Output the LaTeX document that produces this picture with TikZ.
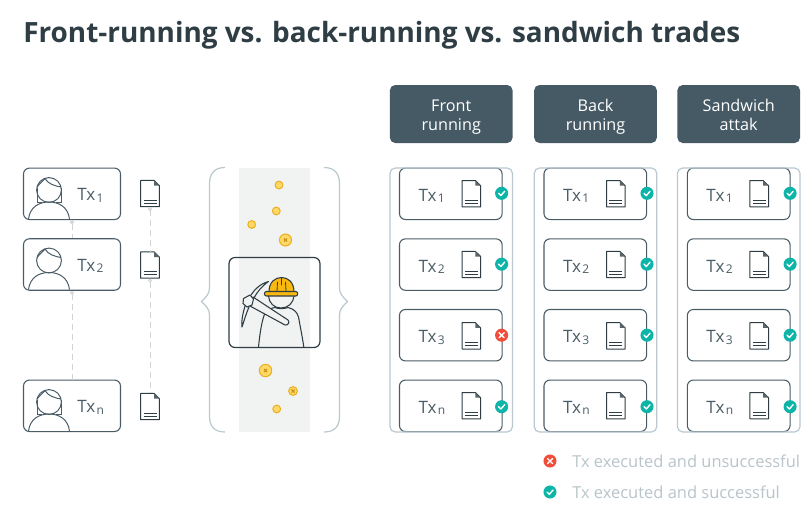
\documentclass[tikz,border=0pt]{standalone}
\usepackage{fontspec}
\setmainfont{Open Sans}
\usetikzlibrary{arrows.meta}
\definecolor{slate}{HTML}{4A5D67}
\definecolor{ink}{HTML}{2F3D44}
\definecolor{headfill}{HTML}{465A65}
\definecolor{frame}{HTML}{B9C9CF}
\definecolor{link}{HTML}{CDD3D6}
\definecolor{band}{HTML}{F1F2F2}
\definecolor{okgreen}{HTML}{0DB5A8}
\definecolor{badred}{HTML}{F04E3A}
\definecolor{note}{HTML}{B9C5CB}
\definecolor{coin}{HTML}{FFD966}
\definecolor{coinedge}{HTML}{EBAE1E}
\definecolor{hat}{HTML}{F9B90F}
\tikzset{
  txbox/.style={draw=slate,line width=.8pt,rounded corners=4.5pt,minimum width=72.75pt,minimum height=38.6pt,inner sep=0pt},
  slot/.style={draw=slate,line width=.8pt,rounded corners=4.5pt,minimum width=77pt,minimum height=38.6pt,inner sep=0pt},
  column/.style={draw=frame,line width=.9pt,rounded corners=4pt,minimum width=91.9pt,minimum height=198pt,inner sep=0pt},
  header/.style={fill=headfill,rounded corners=4pt,minimum width=92pt,minimum height=43.5pt,inner sep=0pt},
  headtext/.style={inner sep=0pt,text=white,align=center,text depth=0pt,font=\fontsize{12.15}{14.5}\selectfont},
  sheet/.style={minimum width=14pt,minimum height=19.8pt,inner sep=0pt},
  sheetline/.style={draw=ink,line width=.75pt,line join=round},
  dotted link/.style={draw=link,line width=.75pt,dash pattern=on 4.5pt off 3pt},
  txt/.style={anchor=base west,inner sep=0pt,text=slate,font=\fontsize{12.8}{15}\selectfont},
  txsub/.style={anchor=base west,inner sep=0pt,text=slate,font=\fontsize{9}{10}\selectfont},
  person/.style={draw=slate,line width=.75pt},
  brace/.style={draw=frame,line width=.9pt},
  coinfill/.style={fill=coin,draw=coinedge,line width=.75pt},
  minerline/.style={draw=ink,line width=.8pt,line cap=round,line join=round},
  glyph/.style={line width=1.05pt,draw=white,line cap=round,line join=round},
  legend/.style={anchor=base west,inner sep=0pt,text=note,font=\fontsize{12.35}{14}\selectfont},
}
% A sheet of paper with a folded corner, as a named node
\newcommand{\sheeticon}[3]{%
  \node[sheet] (#1) at (#2,#3) {};
  \begin{scope}[shift={(#2,#3)}]
    \draw[sheetline] (-9.3,-13.2) -- (4,-13.2) -- (9.3,-8) -- (9.3,13.2) -- (-9.3,13.2) -- cycle;
    \fill[ink!80] (4,-13.2) -- (9.3,-8) -- (4,-8) -- cycle;
    \draw[sheetline,line width=.6pt] (-6.5,6.6) -- (6.5,6.6) (-6.5,9.6) -- (6.5,9.6);
  \end{scope}}
% Tx label with a small index
\newcommand{\txlabel}[3]{%
  \node[txt] at (#1,#2) {Tx};
  \node[txsub] at (#1+19.3,#2+1.5) {#3};}
\newcommand{\okmark}[3]{%
  \node[circle,fill=okgreen,minimum size=9.8pt,inner sep=0pt] (#1) at (#2,#3) {};
  \draw[glyph] (#2-3,#3) -- (#2-.7,#3+2.3) -- (#2+3,#3-2);}
\newcommand{\badmark}[3]{%
  \node[circle,fill=badred,minimum size=9.8pt,inner sep=0pt] (#1) at (#2,#3) {};
  \draw[glyph] (#2-2.5,#3-2.5) -- (#2+2.5,#3+2.5) (#2-2.5,#3+2.5) -- (#2+2.5,#3-2.5);}
\newcommand{\plaincoin}[3]{\draw[coinfill] (#1,#2) circle (#3);}
\newcommand{\crosscoin}[3]{%
  \draw[coinfill] (#1,#2) circle (#3);
  \draw[draw=coinedge!85!black,line width=.8pt] (#1-1.6,#2-1.6) -- (#1+1.6,#2+1.6) (#1-1.6,#2+1.6) -- (#1+1.6,#2-1.6);}
% Head, shoulders and fringe; the optional long hair falls beside the neck
\newcommand{\shortperson}[1]{%
  \begin{scope}[shift={(49,#1)}]
    \draw[person] (0,0) circle (12.4);
    \draw[person] (-20.5,29) .. controls (-19,17) and (-10,12) .. (0,12) .. controls (10,12) and (19,17) .. (20.5,29);
    \draw[person] (-12,-3) .. controls (-8,-8) and (-5,-10) .. (-4,-11.5) .. controls (-1,-6) and (6,-4) .. (12,-3);
  \end{scope}}
\newcommand{\longperson}[1]{%
  \shortperson{#1}
  \begin{scope}[shift={(49,#1)}]
    \draw[person] (-12,-2) -- (-12,12.5) -- (-7,12.5) (12,-2) -- (12,12.5) -- (7,12.5);
  \end{scope}}

\begin{document}
\begin{tikzpicture}[x=.75pt,y=-.75pt]
\useasboundingbox[fill=white] (0,0) rectangle (812,521);

\node[anchor=base west,inner sep=0pt,text=ink,font=\fontsize{20.92}{24}\selectfont\bfseries] (title) at (23,42) {Front-running vs. back-running vs. sandwich trades};

% Senders and their transactions
\node[txbox] (u1) at (72,193.8) {};
\node[txbox] (u2) at (72,264.5) {};
\node[txbox] (un) at (72,405.8) {};
\longperson{190}
\shortperson{260.5}
\longperson{402}
\txlabel{77}{200.7}{1}
\txlabel{77}{271}{2}
\txlabel{77}{412.5}{n}
\sheeticon{d1}{150}{193.5}
\sheeticon{d2}{150}{265}
\sheeticon{dn}{150}{406.5}
\draw[dotted link,{Circle[length=3pt,fill=white]}-] (u1.south) -- (u2.north);
\draw[dotted link,{Circle[length=3pt,fill=white]}-] (u2.south) -- (un.north);
\draw[dotted link,{Circle[length=3pt,fill=white]}-] (d1.south) -- (d2.north);
\draw[dotted link,{Circle[length=3pt,fill=white]}-] (d2.south) -- (dn.north);

% Mempool band between two curly braces
\fill[band] (239,167.5) rectangle (310,432);
\draw[brace] (225,167.5) .. controls (214,167.5) and (209.5,174) .. (209.5,184) -- (209.5,288)
  .. controls (209.5,294) and (206,297) .. (201.5,301.5) .. controls (206,306) and (209.5,309) .. (209.5,315)
  -- (209.5,416) .. controls (209.5,426) and (214,432) .. (225,432);
\draw[brace] (324,167.5) .. controls (335,167.5) and (339.5,174) .. (339.5,184) -- (339.5,288)
  .. controls (339.5,294) and (343,297) .. (347.5,301.5) .. controls (343,306) and (339.5,309) .. (339.5,315)
  -- (339.5,416) .. controls (339.5,426) and (335,432) .. (324,432);
\plaincoin{279}{185}{3.9}
\plaincoin{276.3}{211}{3.9}
\plaincoin{251.7}{224.5}{3.9}
\crosscoin{285.5}{240}{6}
\crosscoin{265.5}{370.5}{6.2}
\crosscoin{293}{391}{4.4}
\plaincoin{276.7}{409}{3.9}

% Miner with hard hat and pickaxe
\node[draw=ink,line width=.9pt,rounded corners=4.5pt,minimum width=68.2pt,minimum height=67.5pt,inner sep=0pt] (miner) at (274.5,302.5) {};
\draw[minerline] (258.5,347) .. controls (260,332) and (262,320) .. (265,313) .. controls (268,309) and (272,308) .. (275,307.5)
  .. controls (278,309) and (284,309) .. (288,307.5) .. controls (294,309) and (297,312) .. (298.5,317) .. controls (300.5,328) and (302.5,338) .. (303.8,347);
\draw[minerline,fill=band] (253,297) -- (288,320) .. controls (290,322) and (288.5,325.5) .. (285,325) -- (250,306) -- cycle;
\draw[minerline,fill=band] (243.5,298.5) -- (250,295) -- (253.5,299) -- (252,305) -- (247,307) -- (243,303.5) -- cycle;
\draw[minerline] (251,295) .. controls (255,289) and (260,284) .. (268.5,281.5) .. controls (262,286) and (257,292) .. (254,298);
\draw[minerline] (245,306) .. controls (243,313) and (241,321) .. (242,327) .. controls (244,321) and (246,314) .. (249,307);
\draw[minerline] (268.5,296) .. controls (269,303) and (274,308) .. (281,308) .. controls (288,308) and (293.5,303) .. (294,296);
\draw[minerline,fill=hat] (269,292) .. controls (269,282) and (275,277.5) .. (281.5,277.5) .. controls (288,277.5) and (294,282) .. (294,292) -- cycle;
\draw[minerline,line width=.6pt] (277,291) -- (277.5,282) (286,291) -- (285.5,282) (281.5,278) -- (281.5,285);
\draw[minerline,fill=hat,rounded corners=1.5pt] (264.5,291.5) rectangle (297.7,296);

% Outcome columns
\foreach \col/\px/\boxx/\okx/\title/\lines in {a/451.2/450.8/501.6/Front/running,b/595.5/595.3/647/Back/running,c/738.7/738.7/790.1/Sandwich/attak}{
  \node[header] (h\col) at (\px,114) {};
  \node[headtext] (t\col) at (\px,115) {\title\\[-.5pt]\lines};
  \pgfmathsetmacro{\txx}{\boxx-32.5}
  \pgfmathsetmacro{\shx}{\boxx+20.5}
  \node[slot] (\col1) at (\boxx,193.8) {};
  \node[slot] (\col2) at (\boxx,264.6) {};
  \node[slot] (\col3) at (\boxx,335.2) {};
  \node[slot] (\col4) at (\boxx,405.8) {};
  \node[column] (f\col) at (\px,300) {};
  \txlabel{\txx}{201}{1}
  \txlabel{\txx}{272}{2}
  \txlabel{\txx}{342.5}{3}
  \txlabel{\txx}{413}{n}
  \sheeticon{s\col1}{\shx}{193.7}
  \sheeticon{s\col2}{\shx}{264.5}
  \sheeticon{s\col3}{\shx}{335.8}
  \sheeticon{s\col4}{\shx}{405.7}
  \okmark{k\col1}{\okx}{193.3}
  \okmark{k\col2}{\okx}{264.2}
  \okmark{k\col4}{\okx}{406.7}
}
\okmark{kb3}{647}{335.2}
\okmark{kc3}{790.1}{335.2}
\badmark{ka3}{501.6}{335.2}

% Legend
\badmark{lbad}{550}{461}
\node[legend] (tbad) at (572,467) {Tx executed and unsuccessful};
\okmark{lok}{550}{492}
\node[legend] (tok) at (572,498) {Tx executed and successful};
\end{tikzpicture}
\end{document}
